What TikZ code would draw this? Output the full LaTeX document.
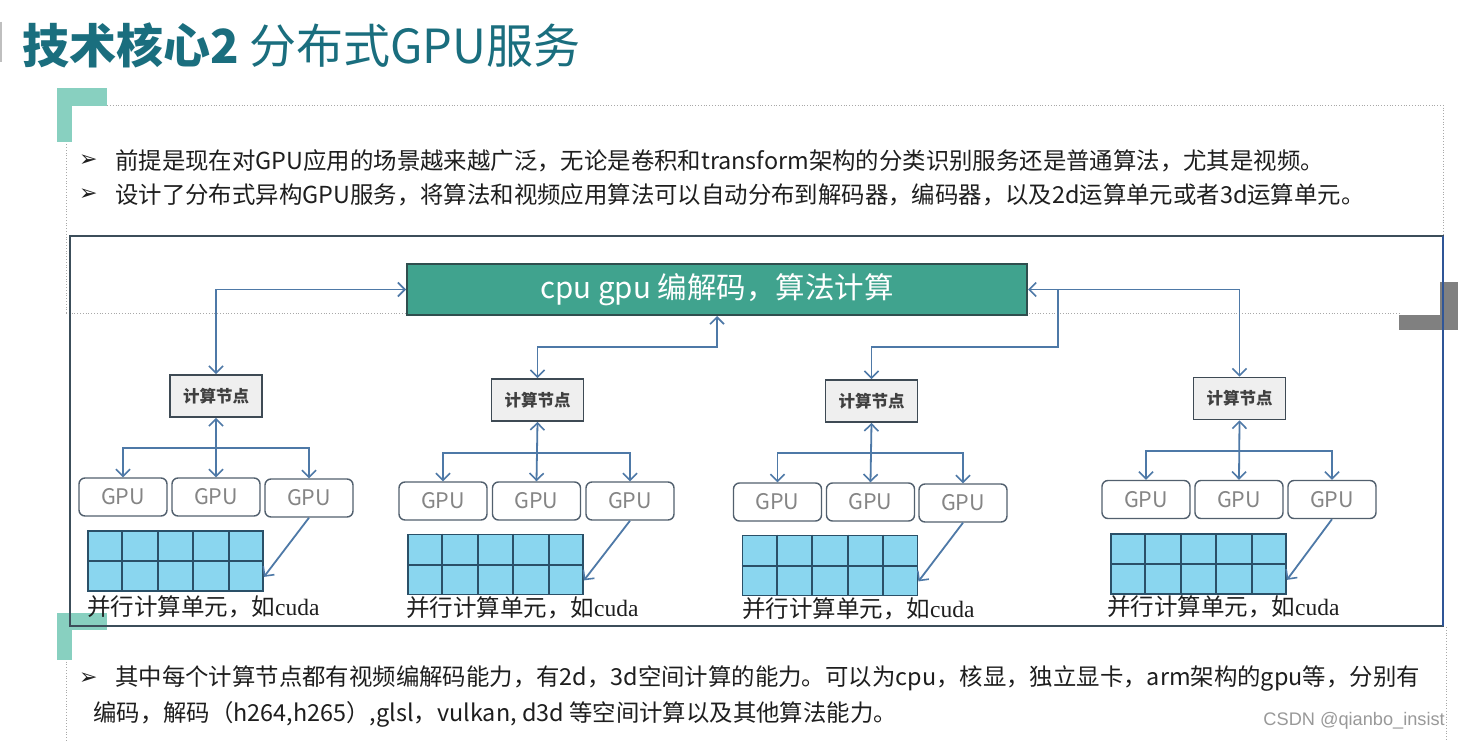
\documentclass[tikz,border=0pt]{standalone}
\usepackage{fontspec}
\setmainfont{Noto Sans CJK SC}
\newfontfamily\dejavu{DejaVu Sans}
\newfontfamily\serifl{Liberation Serif}
\newfontfamily\arialf{Liberation Sans}
\usetikzlibrary{arrows.meta,calc}
\definecolor{titlec}{HTML}{1A6E7E}
\definecolor{bracketc}{HTML}{88D0C0}
\definecolor{mainfill}{HTML}{40A38E}
\definecolor{mainborder}{HTML}{2F4E4E}
\definecolor{connc}{HTML}{4E79A7}
\definecolor{nodefill}{HTML}{EFEFEF}
\definecolor{nodeborder}{HTML}{3E4A54}
\definecolor{gpuborder}{HTML}{52606E}
\definecolor{gputext}{HTML}{858585}
\definecolor{cellfill}{HTML}{8AD6EF}
\definecolor{cellborder}{HTML}{2A5068}
\definecolor{framec}{HTML}{3C4E5A}
\definecolor{frameblue}{HTML}{2F5597}
\definecolor{dotc}{HTML}{A8A8A8}
\definecolor{blockc}{HTML}{808080}
\definecolor{textc}{HTML}{1E1E1E}
\newcommand\fs[1]{\fontsize{#1}{#1}\selectfont}
\newcommand\cudacells[1]{%
  \foreach \k in {1,2,3,4}
    \draw[cellline] ($(#1.north west)!\k/5!(#1.north east)$) -- ($(#1.south west)!\k/5!(#1.south east)$);
  \draw[cellline] (#1.west) -- (#1.east);}
\tikzset{
  x=1pt, y=-1pt,
  tip/.tip={Straight Barb[length=7pt,width=14pt,line width=1.6pt]},
  conn/.style={draw=connc, line width=1.8pt},
  both/.style={conn, tip-tip},
  fwd/.style={conn, -tip},
  mainbox/.style={draw=mainborder, line width=2pt, fill=mainfill, minimum width=620pt, minimum height=51pt, text=white, font=\fs{29.5}},
  compnode/.style={draw=nodeborder, line width=1.8pt, fill=nodefill, minimum width=92pt, minimum height=42pt, text=textc!85, font=\fs{16.5}\bfseries},
  gpubox/.style={draw=gpuborder, line width=1.4pt, rounded corners=6pt, fill=white, minimum width=88pt, minimum height=38pt, text=gputext, font=\fs{21.5}},
  cudagrid/.style={draw=cellborder, line width=1.8pt, fill=cellfill, minimum width=175pt, minimum height=60pt},
  cellline/.style={draw=cellborder, line width=2pt},
  celllabel/.style={anchor=west, text=textc, inner sep=0pt, font=\fs{23.5}},
  bodytext/.style={anchor=west, text=textc, inner sep=0pt, font=\fs{23.4}},
  bullet/.style={anchor=west, text=textc, inner sep=0pt, font=\dejavu\fs{22}},
  dotline/.style={draw=dotc, line width=0.8pt, dotted},
}
\begin{document}
\begin{tikzpicture}
\useasboundingbox (0,0) rectangle (1460,741);
\fill[white] (0,0) rectangle (1460,741);
% dotted panels
\draw[dotline] (66,313) -- (66,105) -- (1443,105) -- (1443,313);
\draw[dotline] (66,313) -- (1400,313);
\draw[dotline] (66,628) -- (66,741);
\draw[dotline] (1446,627) -- (1446,741);
% brackets
\fill[bracketc] (57,88) rectangle (107,106);
\fill[bracketc] (57,88) rectangle (72,142);
\fill[bracketc] (57,613) rectangle (107,630);
\fill[bracketc] (57,613) rectangle (72,660);
% left title marker
\draw[draw=black!25, line width=1.2pt] (1,22) -- (1,62);
% gray block right
\fill[blockc] (1440,282) rectangle (1458,330);
\fill[blockc] (1399,315) rectangle (1458,330);
% title
\node[anchor=west, inner sep=0pt, text=titlec, font=\fs{47}] (title) at (22,45) {\textbf{技术核心2} 分布式GPU服务};
% top bullets
\node[bullet] (b1) at (79,161) {➢};
\node[bodytext] (t1) at (115,161) {前提是现在对GPU应用的场景越来越广泛，无论是卷积和transform架构的分类识别服务还是普通算法，尤其是视频。};
\node[bullet] (b2) at (79,195) {➢};
\node[bodytext] (t2) at (115,195) {设计了分布式异构GPU服务，将算法和视频应用算法可以自动分布到解码器，编码器，以及2d运算单元或者3d运算单元。};
% frame
\draw[draw=framec, line width=2pt] (70,236) rectangle (1443,626);
\draw[draw=frameblue, line width=2pt] (1443,236) -- (1443,626);
% main box
\node[mainbox] (main) at (717,289.5) {cpu gpu 编解码，算法计算};
% compute nodes
\node[compnode] (n1) at (216,396) {计算节点};
\node[compnode] (n2) at (537.5,400) {计算节点};
\node[compnode] (n3) at (871.5,401) {计算节点};
\node[compnode] (n4) at (1239.5,398.5) {计算节点};
% GPUs
\node[gpubox] (g11) at (123,497) {GPU};
\node[gpubox] (g12) at (216,497) {GPU};
\node[gpubox] (g13) at (309,498) {GPU};
\node[gpubox] (g21) at (443,501) {GPU};
\node[gpubox] (g22) at (536.5,501) {GPU};
\node[gpubox] (g23) at (630,501) {GPU};
\node[gpubox] (g31) at (777.5,502) {GPU};
\node[gpubox] (g32) at (870.5,502) {GPU};
\node[gpubox] (g33) at (963,503) {GPU};
\node[gpubox] (g41) at (1146,499.5) {GPU};
\node[gpubox] (g42) at (1239,499.5) {GPU};
\node[gpubox] (g43) at (1332,499.5) {GPU};
% cell grids
\node[cudagrid] (c1) at (175.5,561) {};
\node[cudagrid] (c2) at (495.5,564.5) {};
\node[cudagrid] (c3) at (830,565.5) {};
\node[cudagrid] (c4) at (1198.5,564) {};
\cudacells{c1}
\cudacells{c2}
\cudacells{c3}
\cudacells{c4}
% labels
\node[celllabel] (l1) at (87,607) {并行计算单元，如{\serifl cuda}};
\node[celllabel] (l2) at (406,608) {并行计算单元，如{\serifl cuda}};
\node[celllabel] (l3) at (742,609) {并行计算单元，如{\serifl cuda}};
\node[celllabel] (l4) at (1107,607) {并行计算单元，如{\serifl cuda}};
% connectors to main
\coordinate (j2) at (717,347);
\coordinate (j3) at (1058,347);
\coordinate (k3) at (1058,289.5);
\draw[both] (n1.north) |- (main.west);
\draw[both] (n2.north) |- (j2) -- (main.south -| j2);
\draw[fwd] (k3) -- (j3) -| (n3.north);
\draw[both] (n4.north) |- (main.east);
% group connectors
\foreach \g/\x/\y in {1/216/448,2/536.5/453,3/870.5/453,4/1239/451}{
  \coordinate (bar\g) at (\x,\y);
  \draw[both] (n\g.south) -- (g\g2.north);
  \draw[fwd] (bar\g) -| (g\g1.north);
  \draw[fwd] (bar\g) -| (g\g3.north);
  \draw[fwd] (g\g3.south) -- ($(c\g.south east)+(0,-15)$);
}
% bottom text
\node[bullet] (b3) at (79,679) {➢};
\node[bodytext] (t3) at (115,679) {其中每个计算节点都有视频编解码能力，有2d，3d空间计算的能力。可以为cpu，核显，独立显卡，arm架构的gpu等，分别有};
\node[bodytext] (t4) at (93,714) {编码，解码（h264,h265）,glsl，vulkan, d3d 等空间计算以及其他算法能力。};
\node[anchor=east, inner sep=0pt, text=black!40, font=\arialf\fs{18.2}] (wm) at (1445,721) {CSDN @qianbo\_insist};
\end{tikzpicture}
\end{document}
